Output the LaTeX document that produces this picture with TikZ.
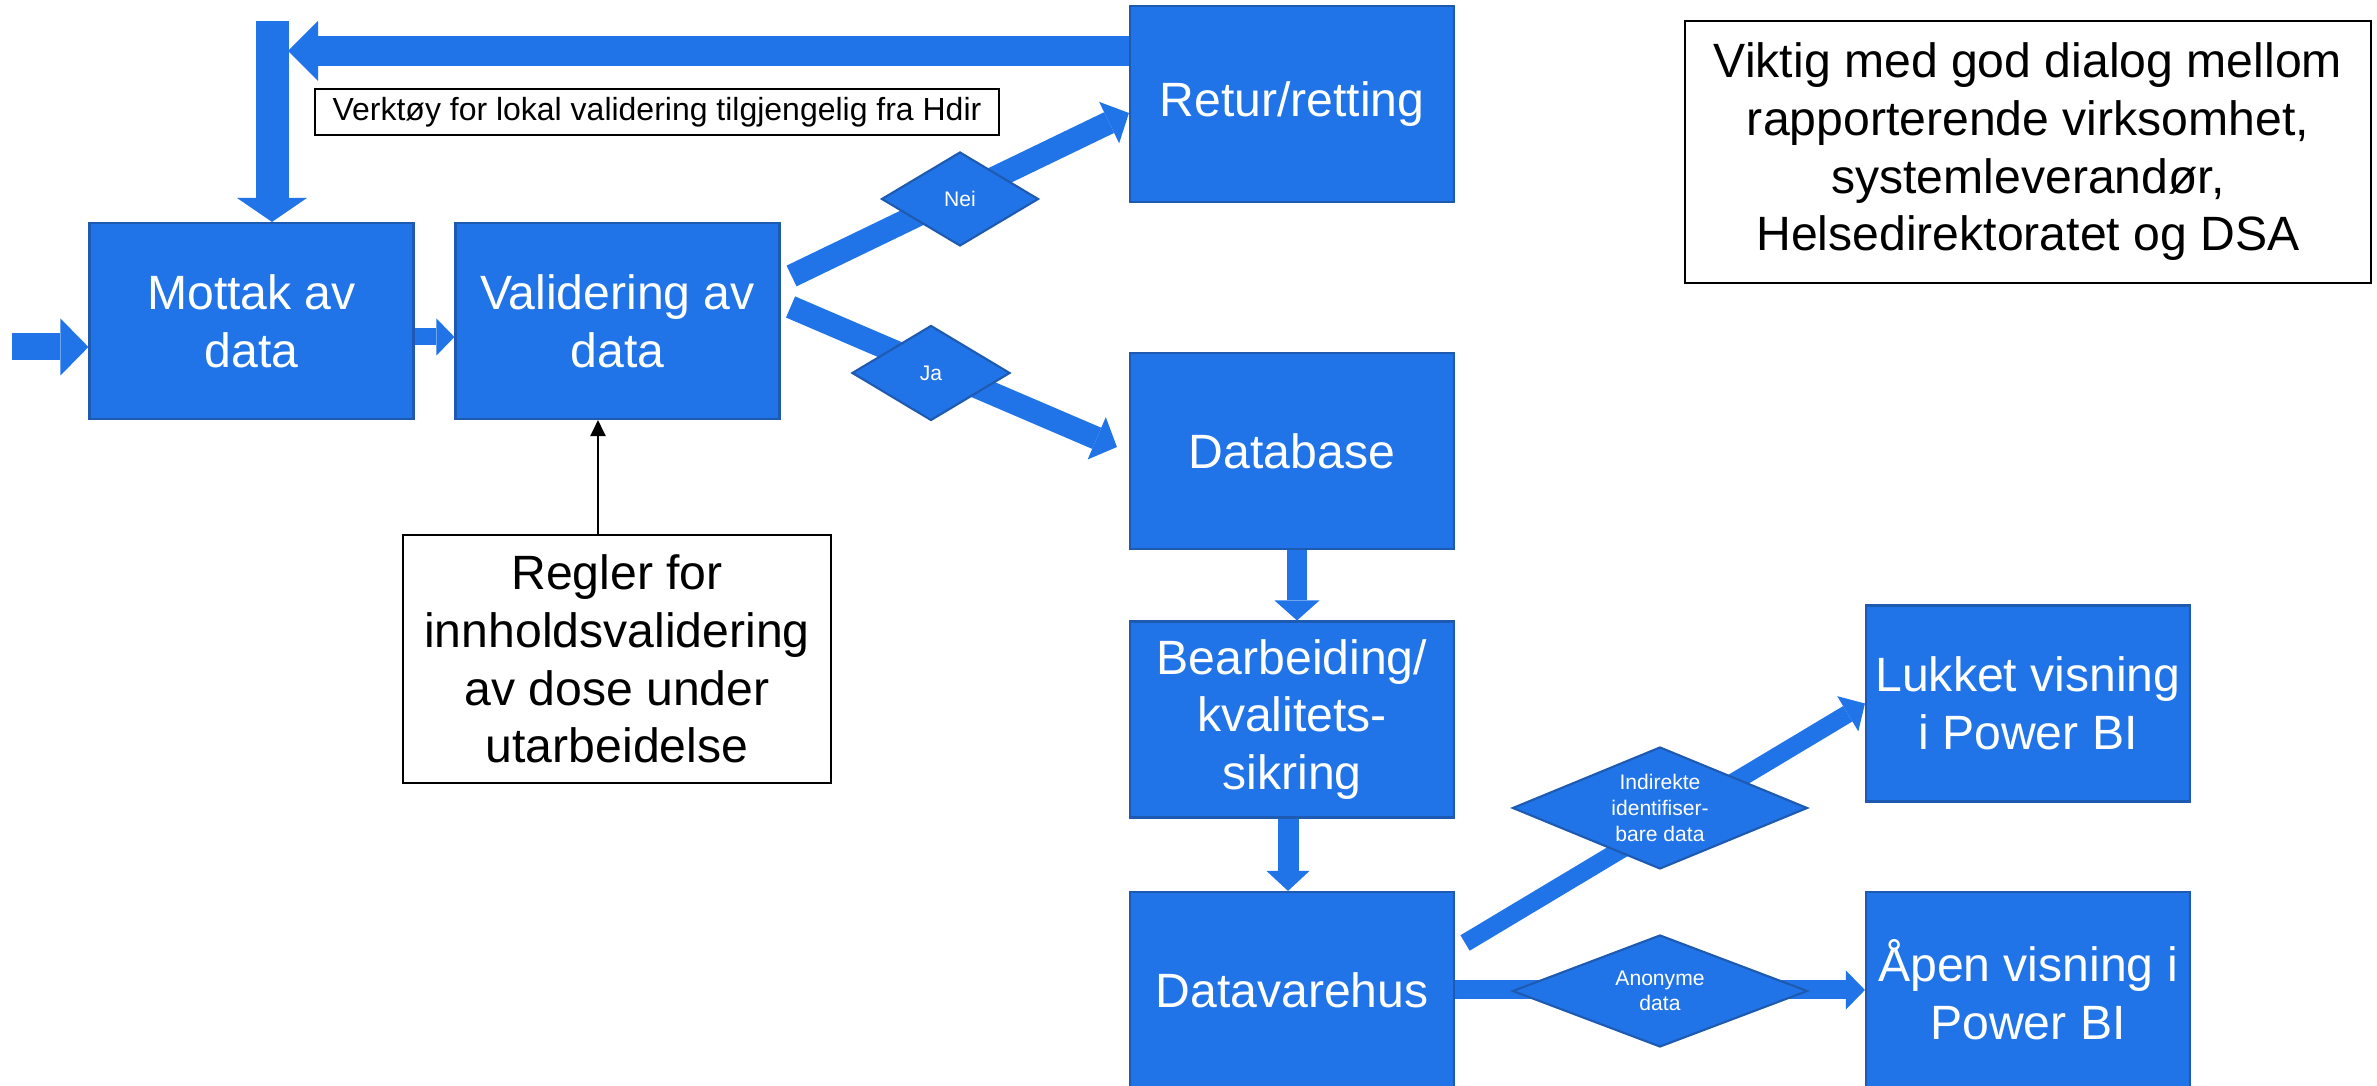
\documentclass[tikz,border=0pt]{standalone}
\usepackage{fontspec}
\setmainfont{Liberation Sans}
\usepackage{xcolor}
\usetikzlibrary{shapes.geometric, arrows.meta, positioning}

\definecolor{boxfill}{RGB}{33,116,232}
\definecolor{boxline}{RGB}{30,90,176}

\tikzset{
  stage/.style={rectangle, draw=boxline, line width=0.6pt, fill=boxfill, text=white, align=center,
    minimum width=3.24cm, minimum height=1.96cm, inner sep=0pt, font=\fontsize{13.7}{16.4}\selectfont},
  note/.style={rectangle, draw=black, line width=0.6pt, fill=white, align=center, inner sep=0pt,
    font=\fontsize{13.7}{16.4}\selectfont},
  choice/.style={diamond, draw=boxline, line width=0.6pt, fill=boxfill, text=white, align=center,
    inner sep=0pt, font=\fontsize{6}{7.3}\selectfont},
  bigarrow/.style n args={3}{draw=boxfill, line width=#1, -{Triangle[width=#2, length=#3, line width=0pt]}},
}

\begin{document}
\begin{tikzpicture}
\useasboundingbox (0,0) rectangle (23.77,-10.86);
% Process boxes
\node[stage] (mottak) at (2.515,-3.21) {Mottak av\\data};
\node[stage] (valid) at (6.175,-3.21) {Validering av\\data};
\node[stage] (retur) at (12.92,-1.04) {Retur/retting};
\node[stage] (database) at (12.92,-4.51) {Database};
\node[stage] (bearb) at (12.92,-7.195) {Bearbeiding/\\kvalitets-\\sikring};
\node[stage] (dvh) at (12.92,-9.90) {Datavarehus};
\node[stage] (lukket) at (20.28,-7.035) {Lukket visning\\i Power BI};
\node[stage] (apen) at (20.28,-9.90) {Åpen visning i\\Power BI};
% Notes
\node[note, minimum width=6.86cm, minimum height=2.62cm] (dialog) at (20.28,-1.52) {Viktig med god dialog mellom\\rapporterende virksomhet,\\systemleverandør,\\Helsedirektoratet og DSA};
\node[note, minimum width=4.28cm, minimum height=2.48cm] (regler) at (6.17,-6.59) {Regler for\\innholdsvalidering\\av dose under\\utarbeidelse};
\node[note, minimum width=6.84cm, minimum height=0.46cm, font=\fontsize{9.1}{11}\selectfont] (verktoy) at (6.57,-1.12) {Verktøy for lokal validering tilgjengelig fra Hdir};
% Block arrows
\coordinate (start) at (0.12,-3.47);
\coordinate (fbtop) at (2.72,-0.21);
\coordinate (fbturn) at (2.88,-0.51);
\draw[bigarrow={0.27cm}{0.57cm}{0.28cm}] (start) -- (start -| mottak.west);
\draw[bigarrow={0.17cm}{0.37cm}{0.18cm}] ([yshift=-0.16cm]mottak.east) -- ([yshift=-0.16cm]valid.west);
\draw[bigarrow={0.30cm}{0.60cm}{0.30cm}] (fbturn -| retur.west) -- (fbturn);
\draw[bigarrow={0.33cm}{0.70cm}{0.24cm}] (fbtop) -- (fbtop |- mottak.north);
\draw[bigarrow={0.23cm}{0.46cm}{0.22cm}] ([shift={(0.11,0.45)}]valid.east) -- ([yshift=-0.09cm]retur.west);
\draw[bigarrow={0.23cm}{0.46cm}{0.22cm}] ([shift={(0.10,0.14)}]valid.east) -- ([shift={(-0.12,0.04)}]database.west);
\draw[bigarrow={0.20cm}{0.45cm}{0.20cm}] ([xshift=0.05cm]database.south) -- ([xshift=0.05cm]bearb.north);
\draw[bigarrow={0.21cm}{0.43cm}{0.20cm}] ([xshift=-0.04cm]bearb.south) -- ([xshift=-0.04cm]dvh.north);
\draw[bigarrow={0.18cm}{0.41cm}{0.20cm}] ([shift={(0.10,0.47)}]dvh.east) -- (lukket.west);
\draw[bigarrow={0.19cm}{0.39cm}{0.19cm}] (dvh.east) -- (apen.west);
\draw[-{Triangle[width=0.15cm, length=0.16cm]}, line width=0.6pt] ([xshift=-0.19cm]regler.north) -- ([xshift=-0.19cm]regler.north |- valid.south);
% Decisions
\node[choice, minimum width=1.57cm, minimum height=0.94cm, aspect=1.67] (nei) at (9.60,-1.99) {Nei};
\node[choice, minimum width=1.58cm, minimum height=0.95cm, aspect=1.67] (ja) at (9.31,-3.73) {Ja};
\node[choice, minimum width=2.95cm, minimum height=1.22cm, aspect=2.42] (indir) at (16.60,-8.08) {Indirekte\\identifiser-\\bare data};
\node[choice, minimum width=2.95cm, minimum height=1.12cm, aspect=2.63] (anon) at (16.60,-9.91) {Anonyme\\data};
\end{tikzpicture}
\end{document}
